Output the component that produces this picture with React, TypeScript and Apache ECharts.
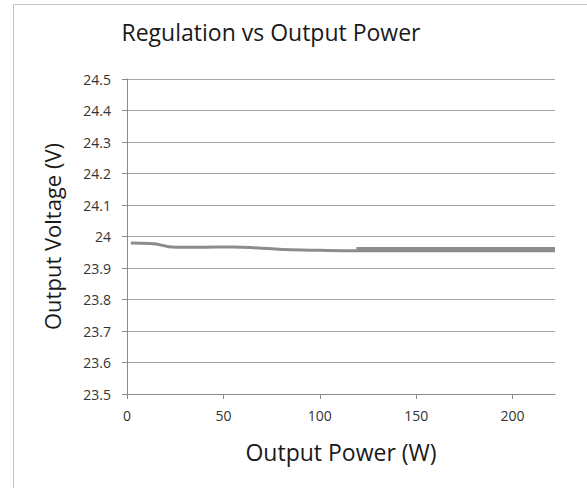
import React, { useEffect, useRef } from "react";
import * as echarts from "echarts";

const titleText = "Regulation vs Output Power";
const xAxisName = "Output Power (W)";
const yAxisName = "Output Voltage (V)";
const xTickValues = [0, 50, 100, 150, 200];

const seriesAPower = [2, 12, 25, 40, 55, 70, 85, 100, 120, 150, 180, 222];
const seriesAVoltage = [23.979, 23.978, 23.966, 23.966, 23.967, 23.963, 23.958, 23.956, 23.955, 23.955, 23.955, 23.955];

const seriesBPower = [119, 150, 180, 222];
const seriesBVoltage = [23.962, 23.962, 23.962, 23.962];

const zip = (xs: number[], ys: number[]) => xs.map((x, i) => [x, ys[i]]);

export default function App() {
  const ref = useRef<HTMLDivElement>(null);
  useEffect(() => {
    if (!ref.current) return;
    const chart = echarts.init(ref.current, undefined, { renderer: "svg" });
    const font = "'Open Sans', sans-serif";
    chart.setOption({
      animation: false,
      backgroundColor: "#ffffff",
      title: {
        text: titleText,
        left: 266,
        top: 15,
        textAlign: "center",
        textStyle: { fontFamily: font, fontSize: 23, fontWeight: "normal", color: "#1a1a1a" },
      },
      graphic: [
        {
          type: "polyline",
          shape: { points: [[13.5, 600], [13.5, 4.5], [600, 4.5]] },
          style: { stroke: "#c4c4c4", lineWidth: 1, fill: "none" },
          silent: true,
        },
      ],
      grid: { left: 127, right: 32, top: 79, bottom: 94 },
      xAxis: {
        type: "value",
        min: 0,
        max: 222,
        interval: 50,
        name: xAxisName,
        nameLocation: "middle",
        nameGap: 46,
        nameTextStyle: { fontFamily: font, fontSize: 23, color: "#1a1a1a" },
        axisLine: { show: true, lineStyle: { color: "#8a8a8a", width: 1 } },
        axisTick: { show: true, length: 5, lineStyle: { color: "#8a8a8a" }, customValues: xTickValues },
        axisLabel: {
          fontFamily: font,
          fontSize: 14,
          color: "#333333",
          margin: 14,
          customValues: xTickValues,
        },
        splitLine: { show: false },
      },
      yAxis: {
        type: "value",
        min: 23.5,
        max: 24.5,
        interval: 0.1,
        name: yAxisName,
        nameLocation: "middle",
        nameRotate: 90,
        nameGap: 64,
        nameTextStyle: { fontFamily: font, fontSize: 22, color: "#1a1a1a" },
        axisLine: { show: true, lineStyle: { color: "#8a8a8a", width: 1 } },
        axisTick: { show: true, length: 5, lineStyle: { color: "#8a8a8a" } },
        axisLabel: {
          fontFamily: font,
          fontSize: 14,
          color: "#333333",
          margin: 16,
          formatter: (v: number) => String(Number(v.toFixed(1))),
        },
        splitLine: { show: true, lineStyle: { color: "#a6a6a6", width: 1 } },
      },
      series: [
        {
          type: "line",
          data: zip(seriesAPower, seriesAVoltage),
          smooth: true,
          showSymbol: false,
          lineStyle: { color: "#8c8c8c", width: 3 },
          clip: false,
        },
        {
          type: "line",
          data: zip(seriesBPower, seriesBVoltage),
          smooth: true,
          showSymbol: false,
          lineStyle: { color: "#8c8c8c", width: 3 },
          clip: false,
        },
      ],
    });
    return () => chart.dispose();
  }, []);
  return (
    <div
      ref={ref}
      style={{ position: "fixed", left: 0, top: 0, width: 587, height: 488 }}
    />
  );
}
